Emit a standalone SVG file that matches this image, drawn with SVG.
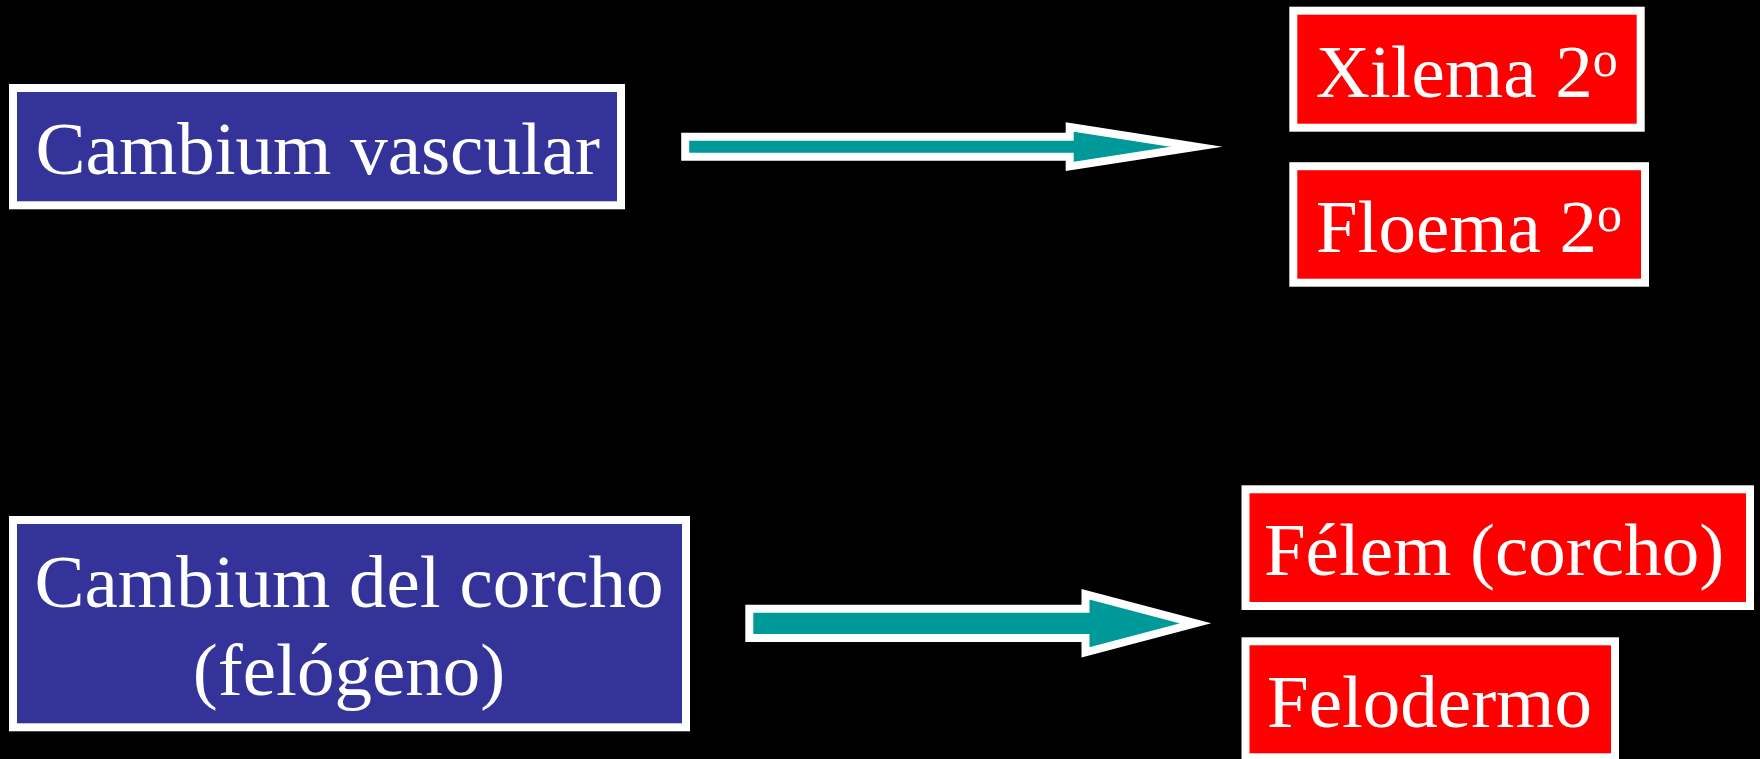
<svg xmlns="http://www.w3.org/2000/svg" width="1760" height="759" viewBox="0 0 1760 759">
  <style>
    .box { stroke: #FFFFFF; stroke-width: 8; }
    .blue { fill: #333399; }
    .red { fill: #FF0000; }
    .lbl { font-family: "Liberation Serif", "Times New Roman", serif; font-size: 75px; fill: #FFFFFF; text-anchor: middle; }
    .sup { font-size: 50px; }
    .arrow { fill: #009999; stroke: #FFFFFF; stroke-width: 8; stroke-linejoin: miter; stroke-miterlimit: 10; }
  </style>
  <rect x="0" y="0" width="1760" height="759" fill="#000000"/>

  <g id="connectors">
    <polygon class="arrow" points="685.2,136.7 1069.7,136.7 1069.7,127 1196.5,146.7 1069.7,166.4 1069.7,156.7 685.2,156.7"/>
    <polygon class="arrow" points="749.3,608.7 1085.5,608.7 1085.5,594.3 1195.5,623.3 1085.5,652.3 1085.5,638 749.3,638"/>
  </g>

  <g id="cambium-vascular">
    <rect class="box blue" x="13" y="88" width="608" height="117.3"/>
    <text class="lbl" x="317.8" y="174">Cambium vascular</text>
  </g>

  <g id="xilema">
    <rect class="box red" x="1293.3" y="10.7" width="347.4" height="117"/>
    <text class="lbl" x="1466.7" y="97.3">Xilema 2<tspan class="sup" dy="-21">o</tspan></text>
  </g>

  <g id="floema">
    <rect class="box red" x="1293.3" y="166.2" width="351.7" height="116.5"/>
    <text class="lbl" x="1469" y="251.7">Floema 2<tspan class="sup" dy="-21">o</tspan></text>
  </g>

  <g id="cambium-corcho">
    <rect class="box blue" x="13" y="520" width="673" height="207.3"/>
    <text class="lbl" x="349" y="606.7">Cambium del corcho</text>
    <text class="lbl" x="349" y="695">(felógeno)</text>
  </g>

  <g id="felem">
    <rect class="box red" x="1245.5" y="489.3" width="504.5" height="116.7"/>
    <text class="lbl" x="1494" y="575">Félem (corcho)</text>
  </g>

  <g id="felodermo">
    <rect class="box red" x="1245.5" y="641.3" width="369.5" height="116"/>
    <text class="lbl" x="1429.5" y="726.7">Felodermo</text>
  </g>
</svg>
